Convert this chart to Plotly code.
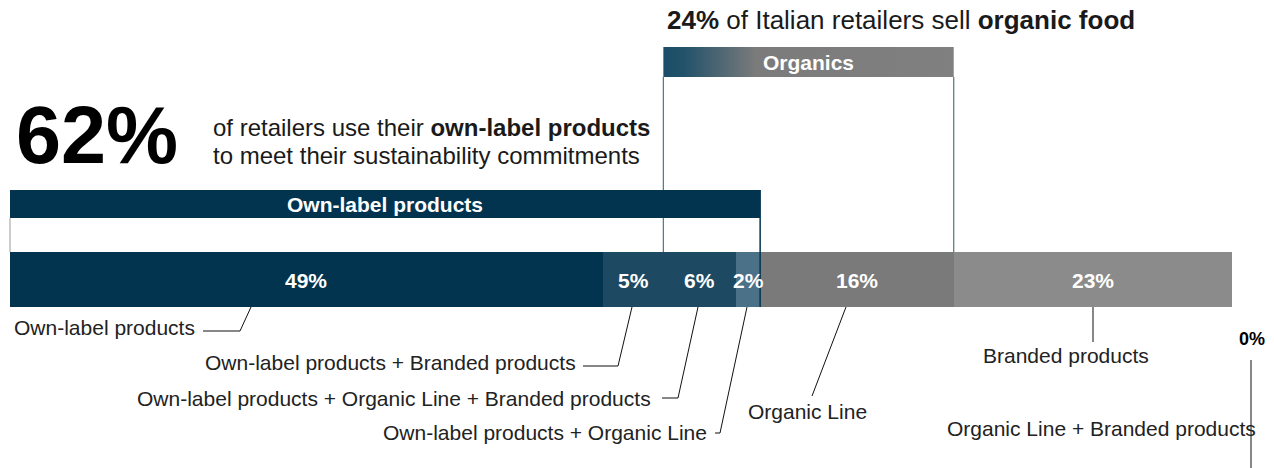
import plotly.graph_objects as go

# ---------------- data ----------------
categories = [
    "Own-label products",
    "Own-label products + Branded products",
    "Own-label products + Organic Line + Branded products",
    "Own-label products + Organic Line",
    "Organic Line",
    "Branded products",
    "Organic Line + Branded products",
]
values = [49, 5, 6, 2, 16, 23, 0]
value_labels = ["49%", "5%", "6%", "2%", "16%", "23%", "0%"]
seg_colors = ["#02344f", "#1e4962", "#1e4962", "#4b7189", "#7a7a7a", "#8b8b8b", "#8b8b8b"]

own_label_idx = [0, 1, 2, 3]          # segments grouped under "Own-label products"
organic_idx = [2, 3, 4, 6]            # segments grouped under "Organics"
own_label_share = "62%"
organic_share = "24%"

# ---------------- geometry helpers ----------------
W, H = 1274, 468
BAR_LEFT, BAR_RIGHT = 10, 1232        # pixel span of the full 0..total bar
total = sum(values)
px_per_unit = (BAR_RIGHT - BAR_LEFT) / total


def px2x(px):
    return (px - BAR_LEFT) / px_per_unit


starts = []
acc = 0
for v in values:
    starts.append(acc)
    acc += v
ends = [s + v for s, v in zip(starts, values)]

FONT = "Liberation Sans, Arial, Helvetica, sans-serif"
NAVY = "#02344f"

fig = go.Figure()

BAR_Y = 279.5
BAR_H = 55
for cat, v, c in zip(categories, values, seg_colors):
    fig.add_trace(go.Bar(
        y=[BAR_Y], x=[v], orientation="h", width=BAR_H,
        marker=dict(color=c, line=dict(width=0)),
        name=cat, textposition="none", hoverinfo="name+x",
    ))

# Organics header with gradient
ox0 = starts[organic_idx[0]]
ox1 = ends[organic_idx[-2]]
fig.add_trace(go.Scatter(
    x=[ox0, ox1, ox1, ox0, ox0], y=[47, 47, 77, 77, 47],
    mode="lines", line=dict(width=0), fill="toself",
    fillgradient=dict(type="horizontal",
                      colorscale=[[0, "#1a4e66"], [0.07, "#22526a"],
                                  [0.32, "#7b7b7b"], [1, "#808080"]]),
    hoverinfo="skip", showlegend=False,
))

shapes = []
# Organics box sides
for xx in (ox0, ox1):
    shapes.append(dict(type="line", xref="x", yref="y", x0=xx, x1=xx, y0=77, y1=252,
                       line=dict(color="#4f7388", width=1.2), layer="above"))

# Own-label box
lx0 = starts[own_label_idx[0]]
lx1 = ends[own_label_idx[-1]]
shapes.append(dict(type="rect", xref="x", yref="y", x0=lx0, x1=lx1, y0=190, y1=218,
                   fillcolor=NAVY, line=dict(width=0), layer="above"))
shapes.append(dict(type="line", xref="x", yref="y", x0=lx0, x1=lx0, y0=218, y1=252,
                   line=dict(color="#9a9a9a", width=1), layer="above"))
shapes.append(dict(type="line", xref="x", yref="y", x0=lx1, x1=lx1, y0=190, y1=307,
                   line=dict(color=NAVY, width=1.5), layer="above"))

# leader lines (pixel anchors of the reference)
leaders = [
    [(203, 331), (240, 331), (251, 307)],
    [(583, 366), (618, 366), (632, 307)],
    [(662, 398), (678, 398), (698, 307)],
    [(715, 433), (720, 433), (747, 307)],
    [(812, 396), (846, 307)],
    [(1093, 307), (1093, 342)],
    [(1251, 360), (1251, 470)],
]
for pts in leaders:
    path = "M " + " L ".join(f"{px2x(px):.4f},{py}" for px, py in pts)
    shapes.append(dict(type="path", xref="x", yref="y", path=path,
                       line=dict(color="#111111", width=1), layer="above"))

annotations = []


def ann(text, x, y, size, color="#111111", xanchor="left", bold=False):
    annotations.append(dict(
        text=f"<b>{text}</b>" if bold else text, x=x, y=y, xref="x", yref="y",
        xanchor=xanchor, yanchor="middle", showarrow=False,
        font=dict(family=FONT, size=size, color=color),
    ))


# headline texts
ann(own_label_share, px2x(14), 135, 81, "#000000", bold=True)
ann("of retailers use their <b>own-label products</b>", px2x(211), 127, 24, "#1a1a1a")
ann("to meet their sustainability commitments", px2x(211), 155, 24, "#1a1a1a")
ann(f"<b>{organic_share}</b> of Italian retailers sell <b>organic food</b>", px2x(665), 20, 26, "#1a1a1a")

# box headers
ann("Organics", (ox0 + ox1) / 2, 62, 21, "white", "center", bold=True)
ann("Own-label products", (lx0 + lx1) / 2, 204, 21, "white", "center", bold=True)

# value labels inside the bar
for i, (lab, s, e) in enumerate(zip(value_labels, starts, ends)):
    if values[i] > 0:
        ann(lab, (s + e) / 2, 280, 21, "white", "center", bold=True)

# category labels below the bar
ann(categories[0], px2x(12), 327, 21, "#222222", "left")
ann(categories[1], px2x(578), 362, 21, "#222222", "right")
ann(categories[2], px2x(653), 398, 21, "#222222", "right")
ann(categories[3], px2x(709), 432, 21, "#222222", "right")
ann(categories[4], px2x(807), 411, 21, "#222222", "center")
ann(categories[5], px2x(1066), 355, 21, "#222222", "center")
ann(categories[6], px2x(1101), 428, 21, "#222222", "center")
ann(value_labels[6], px2x(1252), 339, 18, "#000000", "center", bold=True)

fig.update_layout(
    width=W, height=H,
    margin=dict(l=0, r=0, t=0, b=0, pad=0),
    barmode="stack", bargap=0,
    showlegend=False,
    plot_bgcolor="white", paper_bgcolor="white",
    xaxis=dict(range=[px2x(0), px2x(W)], visible=False, fixedrange=True),
    yaxis=dict(range=[H, 0], visible=False, fixedrange=True),
    shapes=shapes, annotations=annotations,
    font=dict(family=FONT),
)

fig.write_html("out.html", config={"displayModeBar": False},
               post_script="document.body.style.margin='0';document.body.style.overflow='hidden';")
